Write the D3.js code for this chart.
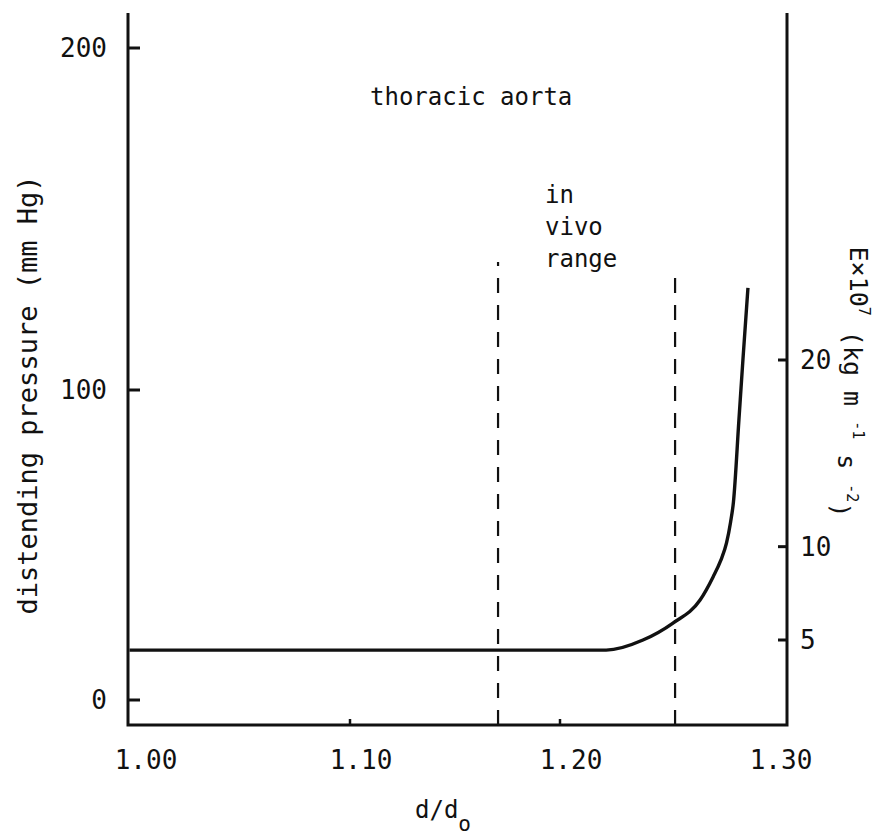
<!DOCTYPE html>
<html>
<head>
<meta charset="utf-8">
<title>thoracic aorta</title>
<script src="https://cdn.jsdelivr.net/npm/d3@7"></script>
<style>
  body { margin: 0; background: #fff; }
  svg text { font-family: "DejaVu Sans Mono", monospace; fill: #111; }
</style>
</head>
<body>
<div id="container"></div>
<script>
// data
var xTickValues = [1.00, 1.10, 1.20, 1.30];
var xTickMarks = [1.10, 1.20];
var pressureTicks = [0, 100, 200];
var eTicks = [5, 10, 20];

// E x 10^7 against d/d0
var dRatio = [0.995, 1.100, 1.222, 1.2395, 1.2538, 1.2667, 1.2729, 1.2765, 1.2793, 1.2812, 1.2826, 1.2852, 1.2871, 1.2895];
var eValues = [4.46, 4.46, 4.46, 5.0, 5.91, 7.14, 8.38, 9.25, 10.2, 11.3, 12.4, 16.79, 20.0, 23.86];

// in vivo range limits (d/d0) and how high the dashed lines reach (E units)
var rangeLimits = [1.1705, 1.2548];
var rangeTops = [25.25, 24.7];

var W = 889, H = 839;
var frame = {left: 128, right: 787, top: 13, bottom: 725};

var svg = d3.select("#container").append("svg")
    .attr("width", W)
    .attr("height", H);

var x = d3.scaleLinear().domain([1.0, 1.3]).range([140, 770]);
var yP = d3.scaleLinear().domain([0, 100, 200]).range([700, 390, 48]);
var yE = d3.scaleLinear().domain([5, 20]).range([640, 360]);

// frame: left, right and bottom axes
svg.append("path")
    .attr("d", "M" + frame.left + "," + frame.top + "V" + frame.bottom + "H" + frame.right + "V" + frame.top)
    .attr("fill", "none")
    .attr("stroke", "#111")
    .attr("stroke-width", 3);

// left ticks (pointing in)
var lt = svg.append("g");
lt.selectAll("line").data(pressureTicks).enter().append("line")
    .attr("x1", frame.left).attr("x2", frame.left + 12)
    .attr("y1", d => yP(d)).attr("y2", d => yP(d))
    .attr("stroke", "#111").attr("stroke-width", 3);
lt.selectAll("text").data(pressureTicks).enter().append("text")
    .attr("x", frame.left - 21)
    .attr("y", d => yP(d))
    .attr("dy", "0.36em")
    .attr("text-anchor", "end")
    .style("font-size", "26px")
    .text(d => d);

// right ticks
var rt = svg.append("g");
rt.selectAll("line").data(eTicks).enter().append("line")
    .attr("x1", frame.right - 9).attr("x2", frame.right)
    .attr("y1", d => yE(d)).attr("y2", d => yE(d))
    .attr("stroke", "#111").attr("stroke-width", 3);
rt.selectAll("text").data(eTicks).enter().append("text")
    .attr("x", frame.right + 13)
    .attr("y", d => yE(d))
    .attr("dy", "0.36em")
    .style("font-size", "26px")
    .text(d => d);

// bottom ticks
var bt = svg.append("g");
bt.selectAll("line").data(xTickMarks).enter().append("line")
    .attr("x1", d => x(d)).attr("x2", d => x(d))
    .attr("y1", frame.bottom).attr("y2", frame.bottom - 6)
    .attr("stroke", "#111").attr("stroke-width", 2.5);
bt.selectAll("text").data(xTickValues).enter().append("text")
    .attr("x", (d, i) => x(d) + (i == 0 ? 6 : 11))
    .attr("y", 769)
    .attr("text-anchor", "middle")
    .style("font-size", "26px")
    .text(d => d.toFixed(2));

// in vivo range dashed lines
svg.append("g").selectAll("line").data(rangeLimits).enter().append("line")
    .attr("x1", d => x(d)).attr("x2", d => x(d))
    .attr("y1", frame.bottom)
    .attr("y2", (d, i) => yE(rangeTops[i]))
    .attr("stroke", "#111")
    .attr("stroke-width", 2.2)
    .attr("stroke-dasharray", "15,12");

// the curve
var pts = dRatio.map((d, i) => [d, eValues[i]]);
svg.append("path")
    .datum(pts)
    .attr("d", d3.line()
      .x(d => x(d[0]))
      .y(d => yE(d[1]))
      .curve(d3.curveMonotoneX))
    .attr("fill", "none")
    .attr("stroke", "#111")
    .attr("stroke-width", 3.4);

// annotations
svg.append("text")
    .attr("x", 370).attr("y", 105)
    .style("font-size", "24px")
    .text("thoracic aorta");

var rangeLines = ["in", "vivo", "range"];
svg.append("g").selectAll("text").data(rangeLines).enter().append("text")
    .attr("x", 545)
    .attr("y", (d, i) => 203 + i * 32)
    .style("font-size", "24px")
    .text(d => d);

// axis titles
svg.append("text")
    .attr("transform", "translate(37,395) rotate(-90)")
    .attr("text-anchor", "middle")
    .style("font-size", "27px")
    .text("distending pressure (mm Hg)");

var rTitle = svg.append("text")
    .attr("transform", "translate(850,382) rotate(90)")
    .attr("text-anchor", "middle")
    .style("font-size", "25px");
rTitle.append("tspan").text("E×10");
rTitle.append("tspan").attr("dy", "-0.6em").style("font-size", "15px").text("7");
rTitle.append("tspan").attr("dy", "0.6em").text(" (kg m ");
rTitle.append("tspan").attr("dy", "-0.6em").style("font-size", "15px").text("-1");
rTitle.append("tspan").attr("dy", "0.6em").text(" s ");
rTitle.append("tspan").attr("dy", "-0.6em").style("font-size", "15px").text("-2");
rTitle.append("tspan").attr("dy", "0.6em").text(")");

var xt = svg.append("text")
    .attr("x", 415).attr("y", 818)
    .style("font-size", "24px");
xt.append("tspan").text("d/d");
xt.append("tspan").attr("dy", "13").style("font-size", "21px").text("o");
</script>
</body>
</html>
